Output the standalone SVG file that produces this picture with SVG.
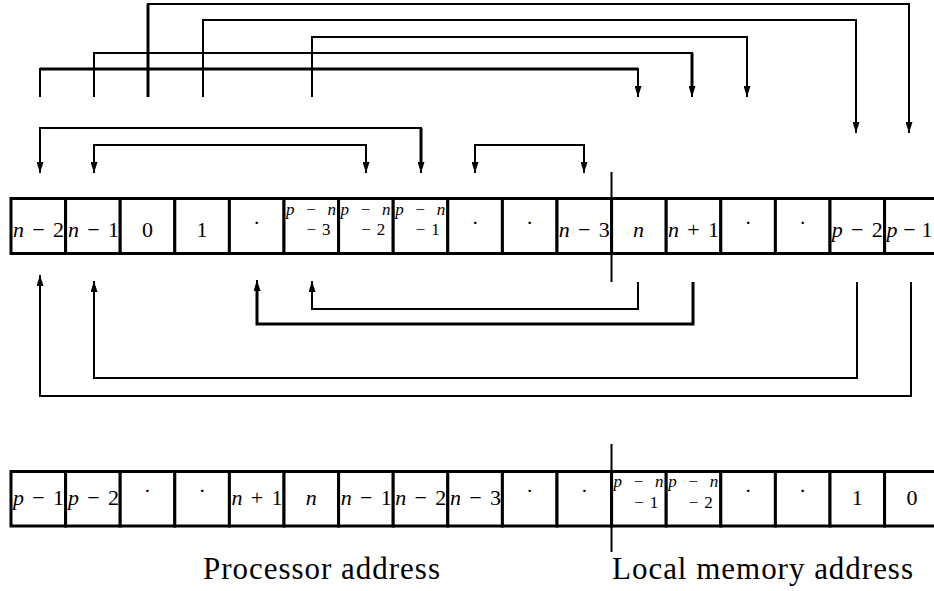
<svg xmlns="http://www.w3.org/2000/svg" width="934" height="591" viewBox="0 0 934 591">
  <style>
    .cell { fill: #fff; stroke: #000; stroke-width: 3; }
    .t { font-family: "Liberation Serif", "Times New Roman", serif; font-size: 22px; fill: #000; text-anchor: middle; }
    .s { font-family: "Liberation Serif", "Times New Roman", serif; font-size: 17px; fill: #000; }
    .i { font-style: italic; }
    .lbl { font-family: "Liberation Serif", "Times New Roman", serif; font-size: 31px; fill: #000; }
    .c { fill: none; stroke: #000; stroke-width: 2; }
    .c3 { fill: none; stroke: #000; stroke-width: 3; }
    .ar { marker-end: url(#ah); }
    .ar2 { marker-start: url(#ah); marker-end: url(#ah); }
    .div { stroke: #000; stroke-width: 2; }
  </style>
  <defs>
    <marker id="ah" viewBox="0 0 11 7" refX="11" refY="3.5" markerWidth="11" markerHeight="7" markerUnits="userSpaceOnUse" orient="auto-start-reverse">
      <path d="M0,0 L11,3.5 L0,7 z" fill="#000"/>
    </marker>
  </defs>
  <rect width="934" height="591" fill="#fff"/>

  <!-- upper row: processor layout before the exchange -->
  <g id="row1">
    <g id="r1c0"><rect class="cell" x="11" y="198.5" width="54.6" height="55"/><text class="t" x="38.5" y="237" textLength="51"><tspan class="i">n</tspan> − 2</text></g>
    <g id="r1c1"><rect class="cell" x="65.6" y="198.5" width="54.6" height="55"/><text class="t" x="93.5" y="237" textLength="51"><tspan class="i">n</tspan> − 1</text></g>
    <g id="r1c2"><rect class="cell" x="120.2" y="198.5" width="54.6" height="55"/><text class="t" x="147.5" y="237">0</text></g>
    <g id="r1c3"><rect class="cell" x="174.8" y="198.5" width="54.6" height="55"/><text class="t" x="202.1" y="237">1</text></g>
    <g id="r1c4"><rect class="cell" x="229.4" y="198.5" width="54.6" height="55"/><text class="t" x="256.7" y="230">·</text></g>
    <g id="r1c5"><rect class="cell" x="284" y="198.5" width="54.6" height="55"/><text class="s" x="286" y="215" textLength="50"><tspan class="i">p</tspan> − <tspan class="i">n</tspan></text><text class="s" x="330.6" y="235" text-anchor="end" textLength="24">−3</text></g>
    <g id="r1c6"><rect class="cell" x="338.6" y="198.5" width="54.6" height="55"/><text class="s" x="340.6" y="215" textLength="50"><tspan class="i">p</tspan> − <tspan class="i">n</tspan></text><text class="s" x="385.2" y="235" text-anchor="end" textLength="24">−2</text></g>
    <g id="r1c7"><rect class="cell" x="393.2" y="198.5" width="54.6" height="55"/><text class="s" x="395.2" y="215" textLength="50"><tspan class="i">p</tspan> − <tspan class="i">n</tspan></text><text class="s" x="439.8" y="235" text-anchor="end" textLength="24">−1</text></g>
    <g id="r1c8"><rect class="cell" x="447.8" y="198.5" width="54.6" height="55"/><text class="t" x="475.1" y="230">·</text></g>
    <g id="r1c9"><rect class="cell" x="502.4" y="198.5" width="54.6" height="55"/><text class="t" x="529.7" y="230">·</text></g>
    <g id="r1c10"><rect class="cell" x="557" y="198.5" width="54.6" height="55"/><text class="t" x="584.3" y="237" textLength="51"><tspan class="i">n</tspan> − 3</text></g>
    <g id="r1c11"><rect class="cell" x="611.6" y="198.5" width="54.6" height="55"/><text class="t i" x="638.4" y="237">n</text></g>
    <g id="r1c12"><rect class="cell" x="666.2" y="198.5" width="54.6" height="55"/><text class="t" x="693.5" y="237" textLength="51"><tspan class="i">n</tspan> + 1</text></g>
    <g id="r1c13"><rect class="cell" x="720.8" y="198.5" width="54.6" height="55"/><text class="t" x="748.1" y="230">·</text></g>
    <g id="r1c14"><rect class="cell" x="775.4" y="198.5" width="54.6" height="55"/><text class="t" x="802.7" y="230">·</text></g>
    <g id="r1c15"><rect class="cell" x="830" y="198.5" width="54.6" height="55"/><text class="t" x="857.3" y="237" textLength="51"><tspan class="i">p</tspan> − 2</text></g>
    <g id="r1c16"><rect class="cell" x="884.6" y="198.5" width="54.6" height="55"/><text class="t" x="909.5" y="237" textLength="46"><tspan class="i">p</tspan> − 1</text></g>
  </g>

  <!-- lower row: processor layout after the exchange -->
  <g id="row2">
    <g id="r2c0"><rect class="cell" x="11" y="471.5" width="54.6" height="54.5"/><text class="t" x="38.5" y="505" textLength="51"><tspan class="i">p</tspan> − 1</text></g>
    <g id="r2c1"><rect class="cell" x="65.6" y="471.5" width="54.6" height="54.5"/><text class="t" x="93.5" y="505" textLength="51"><tspan class="i">p</tspan> − 2</text></g>
    <g id="r2c2"><rect class="cell" x="120.2" y="471.5" width="54.6" height="54.5"/><text class="t" x="147.5" y="498">·</text></g>
    <g id="r2c3"><rect class="cell" x="174.8" y="471.5" width="54.6" height="54.5"/><text class="t" x="202.1" y="498">·</text></g>
    <g id="r2c4"><rect class="cell" x="229.4" y="471.5" width="54.6" height="54.5"/><text class="t" x="257" y="505" textLength="51"><tspan class="i">n</tspan> + 1</text></g>
    <g id="r2c5"><rect class="cell" x="284" y="471.5" width="54.6" height="54.5"/><text class="t i" x="311.3" y="505">n</text></g>
    <g id="r2c6"><rect class="cell" x="338.6" y="471.5" width="54.6" height="54.5"/><text class="t" x="366.2" y="505" textLength="51"><tspan class="i">n</tspan> − 1</text></g>
    <g id="r2c7"><rect class="cell" x="393.2" y="471.5" width="54.6" height="54.5"/><text class="t" x="420.8" y="505" textLength="51"><tspan class="i">n</tspan> − 2</text></g>
    <g id="r2c8"><rect class="cell" x="447.8" y="471.5" width="54.6" height="54.5"/><text class="t" x="475.4" y="505" textLength="51"><tspan class="i">n</tspan> − 3</text></g>
    <g id="r2c9"><rect class="cell" x="502.4" y="471.5" width="54.6" height="54.5"/><text class="t" x="529.7" y="498">·</text></g>
    <g id="r2c10"><rect class="cell" x="557" y="471.5" width="54.6" height="54.5"/><text class="t" x="584.3" y="498">·</text></g>
    <g id="r2c11"><rect class="cell" x="611.6" y="471.5" width="54.6" height="54.5"/><text class="s" x="613.6" y="487" textLength="50"><tspan class="i">p</tspan> − <tspan class="i">n</tspan></text><text class="s" x="658.2" y="508" text-anchor="end" textLength="24">−1</text></g>
    <g id="r2c12"><rect class="cell" x="666.2" y="471.5" width="54.6" height="54.5"/><text class="s" x="668.2" y="487" textLength="50"><tspan class="i">p</tspan> − <tspan class="i">n</tspan></text><text class="s" x="712.8" y="508" text-anchor="end" textLength="24">−2</text></g>
    <g id="r2c13"><rect class="cell" x="720.8" y="471.5" width="54.6" height="54.5"/><text class="t" x="748.1" y="498">·</text></g>
    <g id="r2c14"><rect class="cell" x="775.4" y="471.5" width="54.6" height="54.5"/><text class="t" x="802.7" y="498">·</text></g>
    <g id="r2c15"><rect class="cell" x="830" y="471.5" width="54.6" height="54.5"/><text class="t" x="857.3" y="505">1</text></g>
    <g id="r2c16"><rect class="cell" x="884.6" y="471.5" width="54.6" height="54.5"/><text class="t" x="911.9" y="505">0</text></g>
  </g>

  <!-- exchange connectors -->
  <g id="connectors">
    <!-- upper bank: moves to the local-memory side -->
    <path class="c ar" d="M148,97 V4 H909 V133"/>
    <path class="c3" d="M148,97 V4"/>
    <path class="c ar" d="M203,97 V20 H856 V133"/>
    <path class="c ar" d="M312,97 V37 H747 V97"/>
    <path class="c ar" d="M94,97 V53 H692 V97"/>
    <path class="c3" d="M692,53 V90"/>
    <path class="c ar" d="M40,97 V69 H638 V97"/>
    <path class="c3" d="M40,69 H638"/>
    <!-- swaps within the processor side -->
    <path class="c ar2" d="M40,173 V128 H421 V173"/>
    <path class="c3" d="M421,128 V165"/>
    <path class="c ar2" d="M94,173 V145 H366 V173"/>
    <path class="c ar2" d="M475,173 V145 H584 V173"/>
    <!-- lower bank: moves back from the local-memory side -->
    <path class="c ar" d="M638,282 V309 H312 V281"/>
    <path class="c ar" d="M693,282 V324 H257 V280"/>
    <path class="c3" d="M693,282 V324 H257 V290"/>
    <path class="c ar" d="M857,282 V378 H94 V281"/>
    <path class="c ar" d="M911,282 V396 H40 V275"/>
    <!-- processor / local memory split -->
    <line class="div" x1="611.5" y1="172" x2="611.5" y2="282"/>
    <line class="div" x1="611.5" y1="444" x2="611.5" y2="552"/>
  </g>

  <!-- axis captions -->
  <text class="lbl" x="203" y="579" textLength="237">Processor address</text>
  <text class="lbl" x="612" y="579" textLength="301">Local memory address</text>
</svg>
